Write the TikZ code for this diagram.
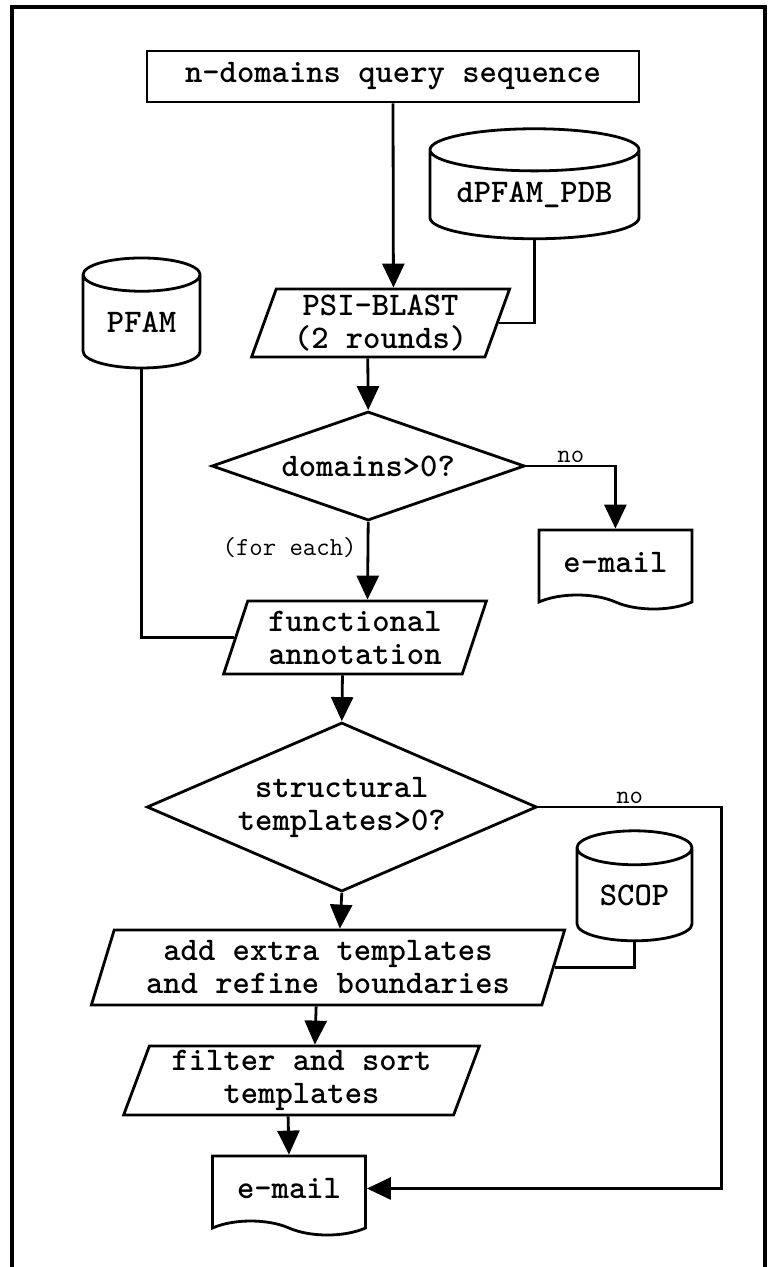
\documentclass[tikz,border=0pt]{standalone}
\usepackage{fontspec}
\usetikzlibrary{arrows.meta,positioning,shapes.geometric,shapes.symbols}

\tikzset{
  every node/.style={font=\ttfamily\bfseries\fontsize{16.5pt}{16.5pt}\selectfont, align=center},
  proc/.style={draw, rectangle, minimum width=246pt, minimum height=25.5pt, inner sep=0pt},
  io/.style={draw, trapezium, trapezium left angle=70, trapezium right angle=110,
             trapezium stretches=true, inner sep=0pt},
  decision/.style={draw, diamond, inner sep=0pt},
  dbase/.style={draw, cylinder, shape border rotate=90, minimum height=55pt, inner sep=0pt},
  mail/.style={draw, tape, tape bend top=none, tape bend bottom=out and in,
               tape bend height=7pt, minimum width=76.5pt, minimum height=39.5pt},
  lbl/.style={font=\ttfamily\mdseries\fontsize{13pt}{13pt}\selectfont, inner sep=1pt},
  arr/.style={-{Triangle[length=12pt,width=11pt]}}
}

\begin{document}
\begin{tikzpicture}[line width=1.4pt, on grid]
  \useasboundingbox (-196.5pt,38.25pt) rectangle (188.5pt,-595.25pt);
  % frame
  \draw[line width=1.8pt] (-190.5pt,-600pt) -- (-190.5pt,34.75pt) -- (186pt,34.75pt) -- (186pt,-600pt);

  \node[proc]    (query)                                          {n-domains query sequence};
  \node[dbase, minimum width=104.5pt, aspect=0.27]
                 (dpfam)  [below right=59.25pt and 70.75pt of query] {dPFAM\_PDB};
  \node[io, minimum width=129pt, minimum height=34pt]
                 (psi)    [below left=123.25pt and 6.2pt of query]   {PSI-BLAST\\(2 rounds)};
  \node[dbase, minimum width=58.5pt, aspect=0.48]
                 (pfam)   [above left=0.5pt and 119.5pt of psi]      {PFAM};
  \node[decision, minimum width=156.5pt, minimum height=54.5pt, aspect=2.87]
                 (dom)    [below left=71.5pt and 6.2pt of psi]       {domains>0?};
  \node[mail]    (mail1)  [below right=48.25pt and 123.6pt of dom]   {e-mail};
  \node[io, minimum width=131.5pt, minimum height=36.5pt]
                 (func)   [below left=85.75pt and 6.6pt of dom]      {functional\\annotation};
  \node[decision, minimum width=195pt, minimum height=84.5pt, aspect=2.31]
                 (struct) [below left=84.75pt and 6.6pt of func]     {structural\\templates>0?};
  \node[io, minimum width=237pt, minimum height=37.5pt]
                 (extra)  [below left=80.25pt and 6.9pt of struct]   {add extra templates\\and refine boundaries};
  \node[dbase, minimum width=57.5pt, aspect=0.49]
                 (scop)   [above right=36.25pt and 153.25pt of extra] {SCOP};
  \node[io, minimum width=178pt, minimum height=34.5pt]
                 (filt)   [below left=56.5pt and 13.25pt of extra]   {filter and sort\\templates};
  \node[mail]    (mail2)  [below left=54pt and 6.25pt of filt]       {e-mail};
  \coordinate[right=91.5pt of struct.east] (noturn);

  \draw[arr] (query.south) -- (psi.top side);
  \draw (dpfam.south) |- (psi.right side);
  \draw (pfam.south) |- (func.left side);
  \draw[arr] (psi.bottom side) -- (dom.north);
  \draw[arr] (dom.east) -| node[lbl, above, pos=0.25] {no} (mail1.north);
  \draw[arr] (dom.south) -- node[lbl, left=4pt, pos=0.33] {(for each)} (func.top side);
  \draw[arr] (func.bottom side) -- (struct.north);
  \draw[arr] (struct.east) -- node[lbl, above] {no} (noturn) |- (mail2.east);
  \draw[arr] (struct.south) -- (extra.top side);
  \draw (scop.south) |- (extra.right side);
  \draw[arr] (extra.bottom side) -- (filt.top side);
  \draw[arr] (filt.bottom side) -- (mail2.north);
\end{tikzpicture}
\end{document}
